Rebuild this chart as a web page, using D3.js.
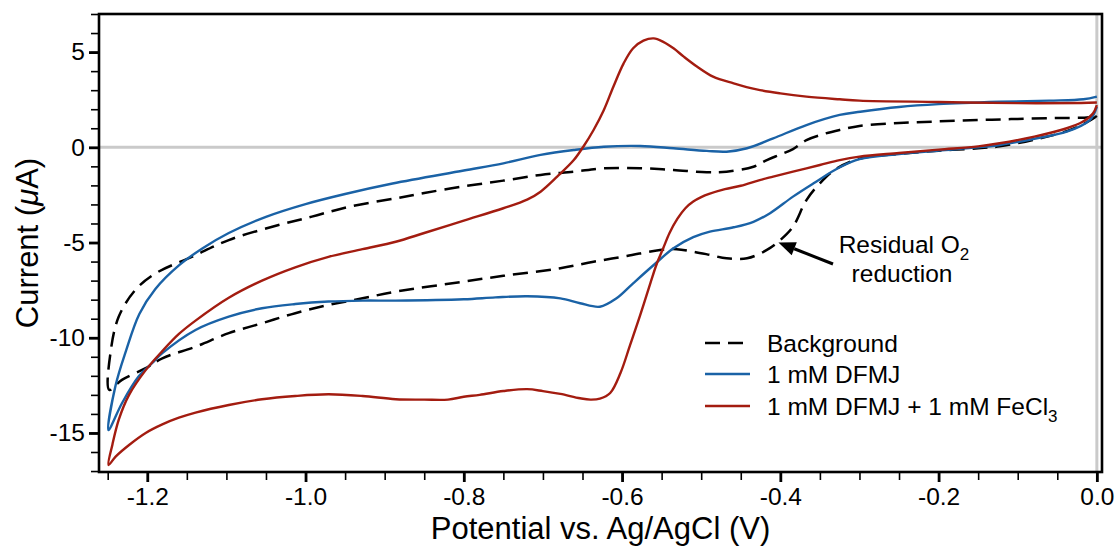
<!DOCTYPE html>
<html>
<head>
<meta charset="utf-8">
<script src="https://cdn.jsdelivr.net/npm/d3@7"></script>
<style>
  html, body { margin: 0; padding: 0; background: #fff; }
  svg { display: block; font-family: "Liberation Sans", Arial, Helvetica, sans-serif; }
</style>
</head>
<body>
<svg id="chart" width="1115" height="546"></svg>
<script>
// ---- Cyclic voltammograms: potential (V vs Ag/AgCl) and current (µA) ----
// Each trace is one closed loop: cathodic sweep 0 → -1.25 V, then anodic sweep back to 0 V.

// Background electrolyte
const backgroundPotential = [
  0.0, -0.005, -0.018, -0.038, -0.079, -0.123, -0.15, -0.2, -0.25, -0.3, -0.33, -0.35,
  -0.367, -0.384, -0.4, -0.417, -0.442, -0.468, -0.489, -0.51, -0.531, -0.552, -0.594,
  -0.636, -0.678, -0.75, -0.8, -0.886, -0.928, -0.971, -1.013, -1.055, -1.097, -1.139,
  -1.181, -1.202, -1.232, -1.248,
  -1.246, -1.236, -1.215, -1.189, -1.143, -1.097, -1.042, -0.992, -0.945, -0.886, -0.85,
  -0.8, -0.75, -0.703, -0.661, -0.623, -0.577, -0.535, -0.493, -0.468, -0.434, -0.417,
  -0.4, -0.384, -0.367, -0.345, -0.325, -0.3, -0.25, -0.2, -0.15, -0.1, -0.05, -0.01, 0.0
];
const backgroundCurrent = [
  1.65, 1.5, 1.2, 0.85, 0.4, 0.05, -0.05, -0.18, -0.35, -0.6, -1.15, -1.89,
  -2.77, -4.17, -4.87, -5.39, -5.83, -5.83, -5.65, -5.48, -5.35, -5.39, -5.71,
  -6.01, -6.35, -6.75, -7.05, -7.58, -7.93, -8.28, -8.71, -9.24, -9.76, -10.47,
  -11.08, -11.6, -12.21, -12.74,
  -10.65, -8.89, -7.49, -6.61, -5.74, -4.87, -4.17, -3.64, -3.12, -2.68, -2.4,
  -2.05, -1.75, -1.45, -1.28, -1.1, -1.1, -1.19, -1.31, -1.28, -1.02, -0.67,
  -0.38, -0.1, 0.38, 0.7, 0.91, 1.12, 1.28, 1.36, 1.43, 1.49, 1.54, 1.58, 1.7
];

// 1 mM DFMJ
const dfmjPotential = [
  0.0, -0.009, -0.038, -0.079, -0.123, -0.15, -0.2, -0.25, -0.3, -0.325, -0.358, -0.384,
  -0.413, -0.434, -0.459, -0.489, -0.51, -0.535, -0.56, -0.586, -0.607, -0.628, -0.653,
  -0.678, -0.72, -0.76, -0.8, -0.886, -0.928, -0.971, -1.013, -1.055, -1.097, -1.139,
  -1.181, -1.194, -1.211, -1.232, -1.249,
  -1.24, -1.227, -1.21, -1.19, -1.16, -1.13, -1.097, -1.05, -1.0, -0.95, -0.89, -0.8,
  -0.75, -0.703, -0.661, -0.623, -0.577, -0.535, -0.493, -0.468, -0.442, -0.409, -0.367,
  -0.325, -0.299, -0.25, -0.2, -0.123, -0.06, -0.017, 0.0
];
const dfmjCurrent = [
  2.13, 1.43, 0.82, 0.45, 0.12, 0.0, -0.17, -0.35, -0.62, -1.05, -1.89, -2.59,
  -3.46, -3.91, -4.2, -4.43, -4.72, -5.3, -6.18, -7.14, -7.93, -8.37, -8.19,
  -7.93, -7.82, -7.88, -7.98, -8.05, -8.05, -8.1, -8.23, -8.45, -8.89, -9.59,
  -10.81, -11.34, -12.04, -13.44, -14.85,
  -12.5, -10.7, -8.75, -7.45, -6.2, -5.3, -4.5, -3.65, -2.98, -2.45, -1.9, -1.22,
  -0.84, -0.4, -0.14, 0.03, 0.07, -0.05, -0.19, -0.23, -0.05, 0.47, 1.17,
  1.7, 1.87, 2.12, 2.27, 2.39, 2.45, 2.52, 2.66
];

// 1 mM DFMJ + 1 mM FeCl3
const feclPotential = [
  0.0, -0.005, -0.018, -0.038, -0.079, -0.123, -0.15, -0.2, -0.25, -0.3, -0.325, -0.35,
  -0.384, -0.409, -0.426, -0.45, -0.47, -0.49, -0.5, -0.51, -0.52, -0.53, -0.54, -0.548,
  -0.556, -0.564, -0.577, -0.59, -0.602, -0.615, -0.628, -0.64, -0.653, -0.678, -0.7,
  -0.72, -0.75, -0.78, -0.8, -0.82, -0.85, -0.886, -0.928, -0.971, -1.013, -1.055,
  -1.097, -1.139, -1.16, -1.181, -1.202, -1.223, -1.24, -1.249,
  -1.244, -1.236, -1.223, -1.202, -1.181, -1.16, -1.139, -1.097, -1.055, -1.013, -0.971,
  -0.928, -0.886, -0.85, -0.8, -0.75, -0.72, -0.703, -0.682, -0.661, -0.649, -0.636,
  -0.623, -0.611, -0.598, -0.586, -0.573, -0.56, -0.548, -0.535, -0.522, -0.505, -0.485,
  -0.459, -0.43, -0.4, -0.367, -0.325, -0.3, -0.2, -0.1, -0.02, 0.0
];
const feclCurrent = [
  2.22, 1.78, 1.34, 1.0, 0.56, 0.21, 0.05, -0.12, -0.3, -0.49, -0.67, -0.93,
  -1.28, -1.54, -1.72, -2.02, -2.2, -2.45, -2.62, -2.85, -3.2, -3.75, -4.5, -5.3,
  -6.1, -7.1, -8.8, -10.4, -11.85, -12.9, -13.2, -13.25, -13.18, -12.95, -12.8,
  -12.7, -12.8, -13.0, -13.1, -13.25, -13.25, -13.23, -13.06, -12.97, -13.06, -13.23,
  -13.53, -13.93, -14.2, -14.55, -15.0, -15.63, -16.24, -16.68,
  -15.6, -14.3, -13.0, -11.7, -10.7, -9.8, -9.1, -7.9, -7.0, -6.3, -5.75,
  -5.35, -4.96, -4.5, -3.85, -3.2, -2.75, -2.33, -1.54, -0.67, 0.03, 0.91,
  1.96, 3.18, 4.41, 5.2, 5.6, 5.72, 5.54, 5.2, 4.76, 4.23, 3.71,
  3.36, 3.04, 2.83, 2.66, 2.52, 2.45, 2.38, 2.32, 2.33, 2.35
];

const seriesNames = ["Background", "1 mM DFMJ", "1 mM DFMJ + 1 mM FeCl"];
const seriesColors = ["#000000", "#1a62a6", "#a31c10"];

const xMajorTicks = [-1.2, -1.0, -0.8, -0.6, -0.4, -0.2, 0.0];
const xMinorTicks = d3.range(-1.25, 0.001, 0.05).map(v => +v.toFixed(2));
const yMajorTicks = [-15, -10, -5, 0, 5];
const yMinorTicks = d3.range(-17, 7.001, 1);

// ---- Layout ----
const plot = { left: 99, right: 1102, top: 14, bottom: 472 };
const svg = d3.select("#chart");
const FONT = "'Liberation Sans', Arial, Helvetica, sans-serif";

const x = d3.scaleLinear().domain([-1.261, 0.0065]).range([plot.left, plot.right]);
const y = d3.scaleLinear().domain([-17.05, 7]).range([plot.bottom, plot.top]);

svg.append("defs").append("clipPath").attr("id", "plot-clip")
  .append("rect")
  .attr("x", plot.left).attr("y", plot.top)
  .attr("width", plot.right - plot.left).attr("height", plot.bottom - plot.top);

// zero reference lines
svg.append("line")
  .attr("x1", plot.left).attr("x2", plot.right)
  .attr("y1", y(0)).attr("y2", y(0))
  .attr("stroke", "#cacaca").attr("stroke-width", 3);
svg.append("line")
  .attr("x1", x(0)).attr("x2", x(0))
  .attr("y1", plot.top).attr("y2", plot.bottom)
  .attr("stroke", "#cacaca").attr("stroke-width", 3);

// ---- Curves ----
const line = d3.line()
  .x(d => x(d[0]))
  .y(d => y(d[1]))
  .curve(d3.curveCatmullRom.alpha(0.5));

const traces = [
  { v: backgroundPotential, i: backgroundCurrent, color: seriesColors[0], dash: "15,8", width: 2.5 },
  { v: dfmjPotential, i: dfmjCurrent, color: seriesColors[1], dash: null, width: 2.4 },
  { v: feclPotential, i: feclCurrent, color: seriesColors[2], dash: null, width: 2.4 }
];

const curves = svg.append("g").attr("clip-path", "url(#plot-clip)");
traces.forEach(t => {
  curves.append("path")
    .datum(d3.zip(t.v, t.i))
    .attr("d", line)
    .attr("fill", "none")
    .attr("stroke", t.color)
    .attr("stroke-width", t.width)
    .attr("stroke-linejoin", "round")
    .attr("stroke-dasharray", t.dash);
});

// ---- Axes ----
const tickFont = 24.5;

const xMinor = svg.append("g").attr("transform", `translate(0,${plot.bottom})`)
  .call(d3.axisBottom(x).tickValues(xMinorTicks).tickSize(8).tickFormat(""));
xMinor.select(".domain").remove();
xMinor.selectAll("line").attr("stroke-width", 1.6);

const xMajor = svg.append("g").attr("transform", `translate(0,${plot.bottom})`)
  .call(d3.axisBottom(x).tickValues(xMajorTicks).tickSize(10).tickPadding(5.5)
    .tickFormat(d => d.toFixed(1)));
xMajor.select(".domain").remove();
xMajor.selectAll("line").attr("stroke-width", 2.8);
xMajor.selectAll("text").attr("font-size", tickFont).attr("fill", "#000")
  .attr("font-family", FONT);

const yMinor = svg.append("g").attr("transform", `translate(${plot.left},0)`)
  .call(d3.axisLeft(y).tickValues(yMinorTicks).tickSize(8).tickFormat(""));
yMinor.select(".domain").remove();
yMinor.selectAll("line").attr("stroke-width", 1.6);

const yMajor = svg.append("g").attr("transform", `translate(${plot.left},0)`)
  .call(d3.axisLeft(y).tickValues(yMajorTicks).tickSize(10).tickPadding(4)
    .tickFormat(d => String(d)));
yMajor.select(".domain").remove();
yMajor.selectAll("line").attr("stroke-width", 2.8);
yMajor.selectAll("text").attr("font-size", tickFont).attr("fill", "#000")
  .attr("font-family", FONT);

// frame
svg.append("rect")
  .attr("x", plot.left).attr("y", plot.top)
  .attr("width", plot.right - plot.left).attr("height", plot.bottom - plot.top)
  .attr("fill", "none").attr("stroke", "#000").attr("stroke-width", 2.6);

// axis titles
svg.append("text")
  .attr("x", (plot.left + plot.right) / 2).attr("y", 539)
  .attr("text-anchor", "middle").attr("font-size", 31)
  .text("Potential vs. Ag/AgCl (V)");

const yTitle = svg.append("text")
  .attr("transform", `translate(38,${(plot.top + plot.bottom) / 2}) rotate(-90)`)
  .attr("text-anchor", "middle").attr("font-size", 31);
yTitle.append("tspan").text("Current (");
yTitle.append("tspan").attr("font-style", "italic").text("\u03BC");
yTitle.append("tspan").text("A)");

// ---- Legend ----
const legend = svg.append("g");
const legendRows = [343, 374, 406];
traces.forEach((t, k) => {
  legend.append("line")
    .attr("x1", 705).attr("x2", 750)
    .attr("y1", legendRows[k]).attr("y2", legendRows[k])
    .attr("stroke", t.color).attr("stroke-width", t.width)
    .attr("stroke-dasharray", t.dash);
  const label = legend.append("text")
    .attr("x", 767).attr("y", legendRows[k] + 9)
    .attr("font-size", 24.5);
  label.append("tspan").text(seriesNames[k]);
  if (k === 2) {
    label.append("tspan").attr("font-size", 17).attr("dy", 7).text("3");
  }
});

// ---- Annotation: residual O2 reduction ----
const note = svg.append("g");
const noteLine1 = note.append("text")
  .attr("x", 904).attr("y", 253).attr("text-anchor", "middle").attr("font-size", 24.5);
noteLine1.append("tspan").text("Residual O");
noteLine1.append("tspan").attr("font-size", 17).attr("dy", 7).text("2");
note.append("text")
  .attr("x", 902).attr("y", 282).attr("text-anchor", "middle").attr("font-size", 24.5)
  .text("reduction");

const tip = [x(-0.4024), y(-5.0)];
const tail = [833, 264];
const ang = Math.atan2(tail[1] - tip[1], tail[0] - tip[0]);
const headLen = 17, headHalf = 7;
const bx = tip[0] + headLen * Math.cos(ang), by = tip[1] + headLen * Math.sin(ang);
note.append("line")
  .attr("x1", tail[0]).attr("y1", tail[1]).attr("x2", bx).attr("y2", by)
  .attr("stroke", "#000").attr("stroke-width", 3);
note.append("path")
  .attr("d", `M${tip[0]},${tip[1]}L${bx - headHalf * Math.sin(ang)},${by + headHalf * Math.cos(ang)}L${bx + headHalf * Math.sin(ang)},${by - headHalf * Math.cos(ang)}Z`)
  .attr("fill", "#000");
</script>
</body>
</html>
